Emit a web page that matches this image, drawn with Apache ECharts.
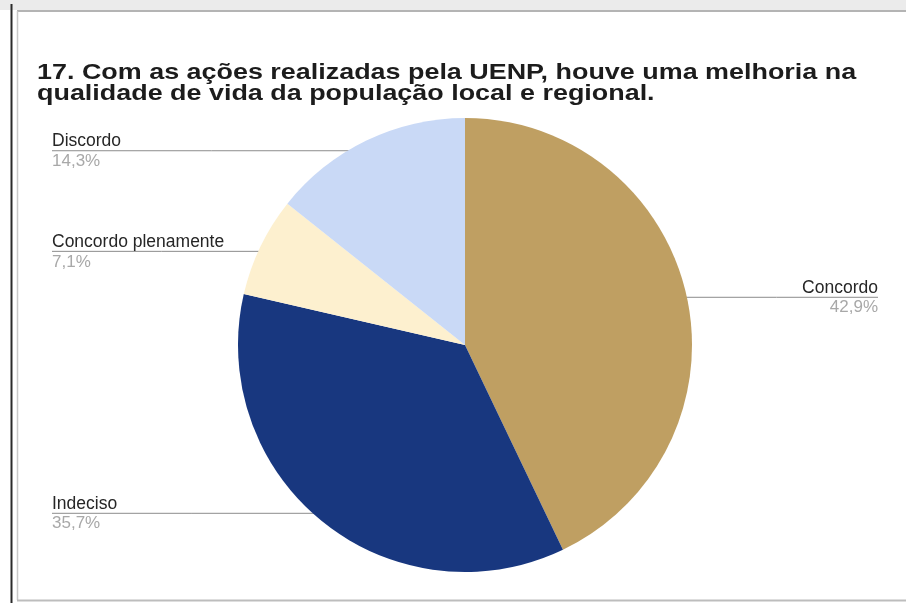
<!DOCTYPE html>
<html>
<head>
<meta charset="utf-8">
<script src="https://cdn.jsdelivr.net/npm/echarts@6/dist/echarts.min.js"></script>
<style>
  html, body { margin: 0; padding: 0; background: #fff; }
  #main { width: 906px; height: 603px; }
</style>
</head>
<body>
<div id="main"></div>
<script>
// dados
const categories = ['Concordo', 'Indeciso', 'Concordo plenamente', 'Discordo']
const percentValues = [42.9, 35.7, 7.1, 14.3]
const sliceColors = ['#bf9f62', '#18377f', '#fdf0cf', '#c9d9f6']

const titleLines = [
  '17. Com as ações realizadas pela UENP, houve uma melhoria na',
  'qualidade de vida da população local e regional.'
]

const FONT = '"Liberation Sans", Arial, sans-serif'
const CX = 465
const CY = 345
const R = 227

const myChart = echarts.init(document.getElementById('main'))

const option = {
  backgroundColor: '#fff',
  animation: false,
  graphic: [
    { type: 'rect', shape: { x: 0, y: 0, width: 906, height: 10 }, style: { fill: '#ebebeb' }, silent: true },
    { type: 'line', shape: { x1: 17, y1: 11, x2: 906, y2: 11 }, style: { stroke: '#b4b4b4', lineWidth: 2 }, silent: true },
    { type: 'line', shape: { x1: 11.5, y1: 4, x2: 11.5, y2: 603 }, style: { stroke: '#2a2a2a', lineWidth: 2 }, silent: true },
    { type: 'line', shape: { x1: 17.5, y1: 11, x2: 17.5, y2: 600 }, style: { stroke: '#c8c8c8', lineWidth: 1.5 }, silent: true },
    { type: 'line', shape: { x1: 17, y1: 600.5, x2: 906, y2: 600.5 }, style: { stroke: '#bdbdbd', lineWidth: 2 }, silent: true },
    // título (esticado na horizontal, como na imagem original)
    {
      type: 'text', x: 37, y: 73.5, scaleX: 1.17, scaleY: 0.94, silent: true,
      style: { text: titleLines[0], x: 0, y: 0, verticalAlign: 'middle', font: 'bold 23px ' + FONT, fill: '#1c1c1c' }
    },
    {
      type: 'text', x: 37, y: 94, scaleX: 1.17, scaleY: 0.94, silent: true,
      style: { text: titleLines[1], x: 0, y: 0, verticalAlign: 'middle', font: 'bold 23px ' + FONT, fill: '#1c1c1c' }
    }
  ],
  series: [
    {
      type: 'pie',
      center: [CX, CY],
      radius: R,
      startAngle: 90,
      clockwise: true,
      color: sliceColors,
      label: {
        show: true,
        position: 'outer',
        formatter: function(p) {
          return '{n|' + p.name + '}\n{v|' + p.value.toFixed(1).replace('.', ',') + '%}'
        },
        rich: {
          n: { fontFamily: FONT, fontSize: 17.5, color: '#262626', lineHeight: 21 },
          v: { fontFamily: FONT, fontSize: 17, color: '#a8a8a8', lineHeight: 19 }
        }
      },
      labelLine: {
        show: true,
        length: 10,
        length2: 10,
        lineStyle: { color: '#8c8c8c', width: 1 }
      },
      labelLayout: function(params) {
        const p = params.labelLinePoints
        if (!p) return {}
        // linha começa dentro da fatia, como no original
        const sx = CX + (p[0][0] - CX) * 0.95
        const sy = CY + (p[0][1] - CY) * 0.95
        const left = p[0][0] < CX
        const ex = left ? 52 : 878
        return {
          x: ex,
          y: sy,
          align: left ? 'left' : 'right',
          verticalAlign: 'middle',
          labelLinePoints: [[sx, sy], [(sx + ex) / 2, sy], [ex, sy]]
        }
      },
      itemStyle: { borderWidth: 0 },
      emphasis: { disabled: true },
      data: categories.map(function(name, i) {
        return { name: name, value: percentValues[i] }
      })
    }
  ]
}

myChart.setOption(option)
</script>
</body>
</html>
